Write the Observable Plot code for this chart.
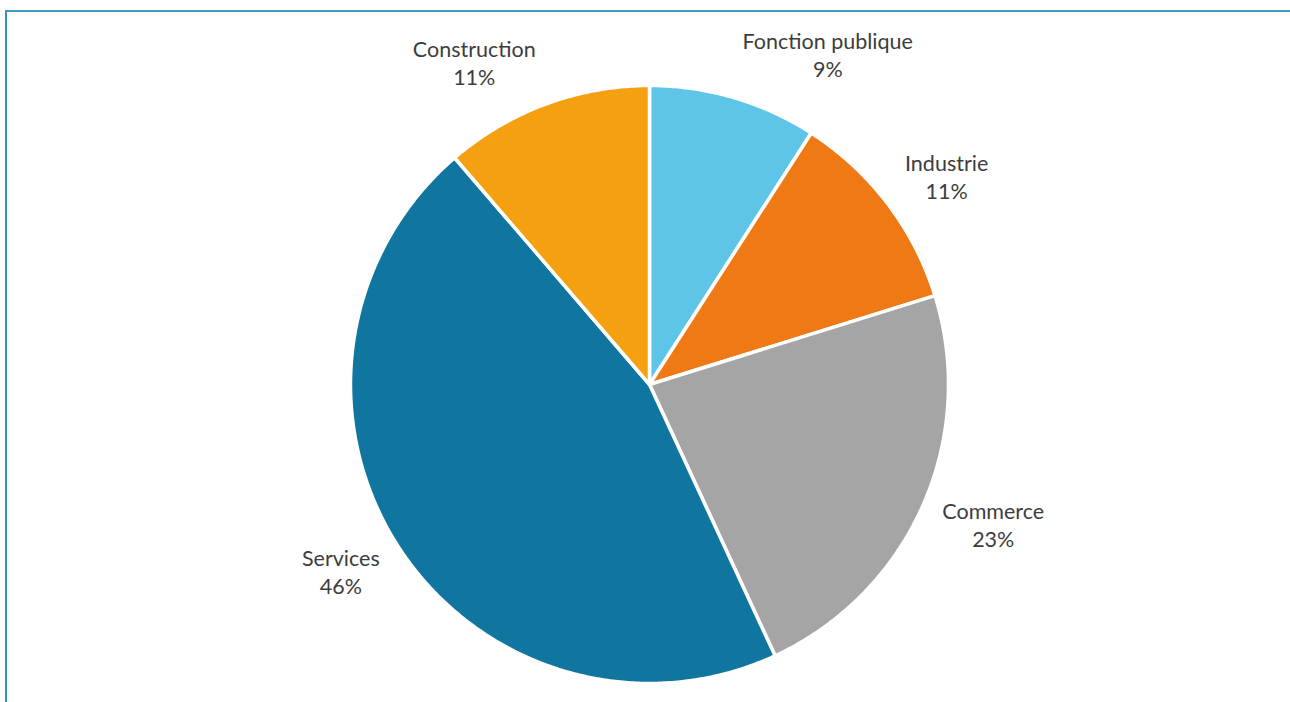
<!DOCTYPE html>
<html>
<head>
<meta charset="utf-8">
<script src="https://cdn.jsdelivr.net/npm/d3@7"></script>
<script src="https://cdn.jsdelivr.net/npm/@observablehq/plot@0.6"></script>
<style>
  html, body { margin: 0; padding: 0; background: #fff; }
  #wrap { position: relative; width: 1290px; height: 702px; overflow: hidden; }
  #frame { position: absolute; left: 5px; top: 10px; width: 1300px; height: 720px;
           border-top: 2px solid #3d9dc2; border-left: 2px solid #2f93bd; box-sizing: border-box; }
  #chart { position: absolute; left: 0; top: 0; }
</style>
</head>
<body>
<div id="wrap"><div id="frame"></div><div id="chart"></div></div>
<script>
const categories = ["Fonction publique", "Industrie", "Commerce", "Services", "Construction"];
const shares = [9.1, 11.1, 22.9, 45.6, 11.3];
const shareLabels = ["9%", "11%", "23%", "46%", "11%"];
const colors = ["#5ec4e8", "#ef7915", "#a5a5a5", "#10759f", "#f4a011"];

const W = 1290, H = 702;
const cx = 649, cy = 384, r = 299;
const fontSize = 21.5, lineH = 28 / 21.5;
const fontFamily = "Lato, 'Open Sans', sans-serif";

const data = categories.map((name, i) => ({name, share: shares[i], label: shareLabels[i]}));
const arcs = d3.pie().sort(null).value(d => d.share)(data);

// polygon points for each slice (unit radius)
const pts = [];
for (const a of arcs) {
  pts.push({name: a.data.name, x: 0, y: 0});
  const n = Math.max(2, Math.ceil((a.endAngle - a.startAngle) / (Math.PI / 360)));
  for (let k = 0; k <= n; k++) {
    const t = a.startAngle + (a.endAngle - a.startAngle) * k / n;
    pts.push({name: a.data.name, x: Math.sin(t), y: Math.cos(t)});
  }
}

// label placement: outside end, box corner anchored near the rim
const ctx = document.createElement("canvas").getContext("2d");
ctx.font = `${fontSize}px Lato`;
const labelR = 316 / r;
const boxH = 2 * fontSize * lineH;
const boxPad = 4;
const labelData = arcs.map(a => {
  const t = (a.startAngle + a.endAngle) / 2;
  const s = Math.sin(t), c = Math.cos(t);
  const w = Math.max(ctx.measureText(a.data.name).width, ctx.measureText(a.data.label).width) + 2 * boxPad;
  return {
    text: a.data.name + "\n" + a.data.label,
    x: labelR * s + Math.sign(s) * (w / 2) / r,
    y: labelR * c + c * (boxH / 2) / r
  };
});

const chart = Plot.plot({
  width: W, height: H,
  margin: 0,
  x: {domain: [-1, 1], range: [cx - r, cx + r], axis: null},
  y: {domain: [-1, 1], range: [cy + r, cy - r], axis: null},
  color: {domain: categories, range: colors},
  style: {background: "transparent"},
  marks: [
    Plot.line(pts, {x: "x", y: "y", z: "name", fill: "name", stroke: "white", strokeWidth: 3.5, strokeLinejoin: "round", curve: "linear-closed"}),
    Plot.text(labelData, {x: "x", y: "y", text: "text", fill: "#3d3d3d", fontSize, fontFamily, lineHeight: lineH, textAnchor: "middle", lineAnchor: "middle"})
  ]
});
document.getElementById("chart").appendChild(chart);
</script>
</body>
</html>
